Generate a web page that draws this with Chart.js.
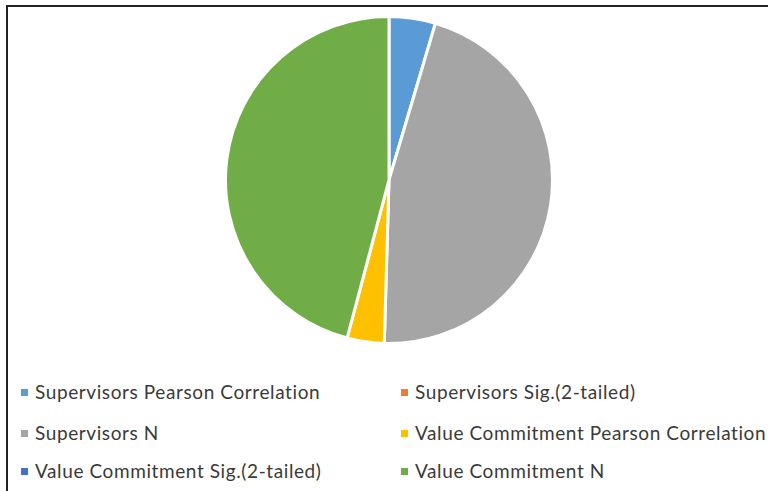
<!DOCTYPE html>
<html>
<head>
<meta charset="utf-8">
<script src="https://cdn.jsdelivr.net/npm/chart.js@4/dist/chart.umd.min.js"></script>
<style>
  html, body { margin: 0; padding: 0; background: #fff; }
  body { width: 768px; height: 491px; position: relative; overflow: hidden; font-family: Lato, "Noto Sans", sans-serif; }
  #frame { position: absolute; left: 6px; top: 5px; width: 800px; height: 520px; border-left: 2px solid #222; border-top: 2px solid #222; }
  #pie { position: absolute; left: 224px; top: 15px; }
  .item { position: absolute; font-size: 19px; letter-spacing: 0.6px; color: #3a3a3a; white-space: nowrap; line-height: 20px; }
  .item span.box { display: inline-block; width: 7px; height: 7px; margin-right: 7px; vertical-align: 3px; }
</style>
</head>
<body>
<div id="frame"></div>
<canvas id="pie" width="330" height="330"></canvas>
<div id="legend"></div>
<script>
const labels = [
  'Supervisors Pearson Correlation',
  'Supervisors Sig.(2-tailed)',
  'Supervisors N',
  'Value Commitment Pearson Correlation',
  'Value Commitment Sig.(2-tailed)',
  'Value Commitment N'
];
const values = [1, 0, 10, 0.8, 0, 10];
const colors = ['#5B9BD5', '#ED7D31', '#A5A5A5', '#FFC000', '#4472C4', '#70AD47'];

new Chart(document.getElementById('pie').getContext('2d'), {
  type: 'pie',
  data: {
    labels,
    datasets: [{
      data: values,
      backgroundColor: colors,
      borderColor: '#fff',
      borderWidth: 3
    }]
  },
  options: {
    responsive: false,
    animation: false,
    plugins: {
      legend: { display: false },
      tooltip: { enabled: false }
    }
  }
});

// two-column legend under the pie
const legend = document.getElementById('legend');
const rowTops = [382, 423, 461];
labels.forEach((label, i) => {
  const div = document.createElement('div');
  div.className = 'item';
  div.style.left = (i % 2 === 0 ? 21 : 401) + 'px';
  div.style.top = rowTops[Math.floor(i / 2)] + 'px';
  div.innerHTML = '<span class="box" style="background:' + colors[i] + '"></span>' + label;
  legend.appendChild(div);
});
</script>
</body>
</html>
